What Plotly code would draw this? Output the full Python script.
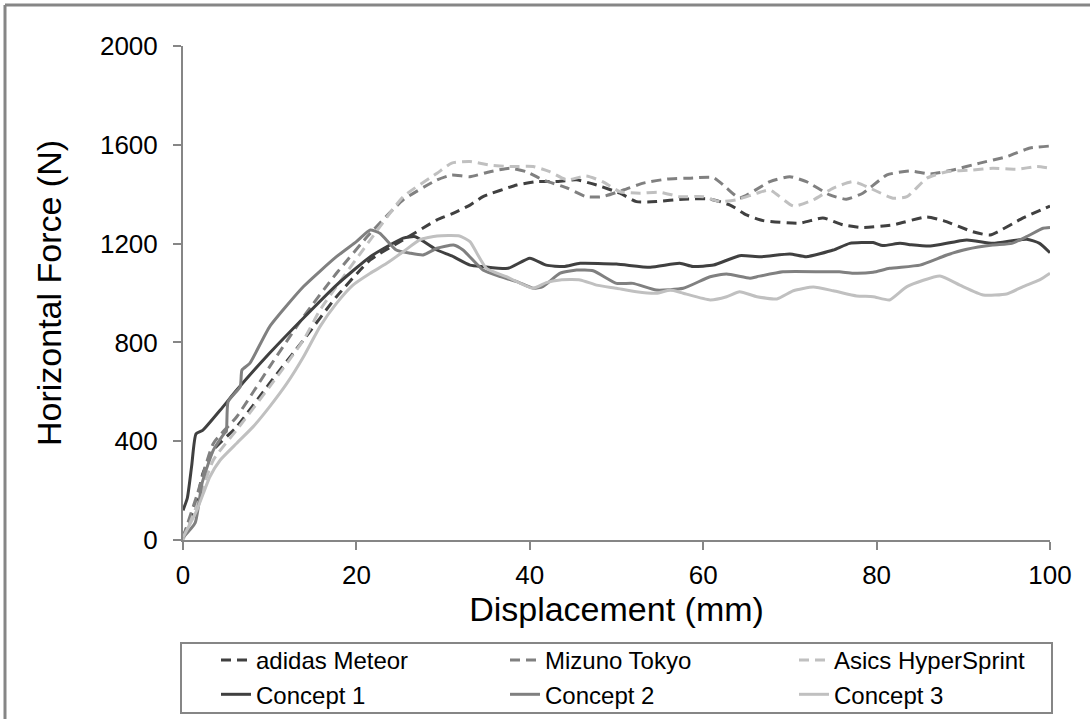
import plotly.graph_objects as go

# ---- data ----
names = ["adidas Meteor", "Mizuno Tokyo", "Asics HyperSprint", "Concept 1", "Concept 2", "Concept 3"]

adidas_x = [0, 1.6, 2.3, 3.5, 6.2, 10, 13.9, 17.7, 21.6, 25.4, 29.3, 31, 33.1, 34.6, 38.5, 40.8, 43, 45.4, 47.7,
            50.4, 52.3, 54.6, 57.7, 60.8, 63.1, 65, 66.9, 71.2, 73.8, 76.1, 78.4, 81.9, 85.8, 87.7, 91.1, 93.1, 96.9, 100]
adidas_y = [10, 162, 270, 364, 459, 635, 810, 985, 1134, 1215, 1296, 1320, 1356, 1390, 1437, 1451, 1451, 1458, 1437,
            1404, 1370, 1370, 1380, 1380, 1356, 1316, 1293, 1283, 1304, 1276, 1265, 1276, 1308, 1293, 1248, 1235, 1304, 1352]

mizuno_x = [0, 1.6, 3.5, 6.2, 10, 13.9, 17.7, 21.6, 25.4, 29.3, 31, 33.1, 35.4, 37.7, 39.6, 41.5, 44.3, 46.5, 48.4,
            50.8, 53.1, 55.8, 58.5, 61.2, 62.7, 64.2, 67.7, 70, 71.9, 74.6, 76.5, 78.4, 81.2, 83.9, 86.2, 88.8, 91.9,
            95, 97.7, 100]
mizuno_y = [10, 180, 391, 499, 702, 904, 1080, 1242, 1377, 1458, 1478, 1471, 1491, 1505, 1491, 1458, 1425, 1390, 1390,
            1417, 1445, 1461, 1465, 1467, 1425, 1385, 1451, 1471, 1451, 1397, 1380, 1404, 1478, 1494, 1482, 1498, 1526,
            1552, 1587, 1595]

asics_x = [0, 1.6, 3.5, 6.2, 10, 13.9, 15.8, 17.7, 21.6, 25.4, 29.3, 31, 33.1, 35.4, 37.7, 40.4, 42.3, 44.3, 46.5,
           48.4, 50.4, 52.7, 55, 57.3, 60, 61.9, 63.8, 66.2, 67.7, 70.4, 72.7, 75, 77.3, 79.2, 81.9, 83.5, 85.8, 88.1,
           91.1, 93.4, 96.2, 98.5, 100]
asics_y = [0, 140, 324, 446, 621, 810, 931, 1026, 1215, 1390, 1485, 1526, 1532, 1518, 1512, 1512, 1491, 1458, 1474,
           1451, 1410, 1404, 1408, 1390, 1390, 1370, 1377, 1404, 1417, 1352, 1377, 1425, 1451, 1425, 1384, 1390, 1465,
           1491, 1498, 1505, 1501, 1512, 1505]

c1_x = [0, 0.5, 1.0, 1.5, 2.3, 4.3, 6.2, 10, 13.9, 17.7, 21.6, 25.4, 26.8, 29.3, 31, 33.1, 34.6, 37.5, 40, 41.9, 43.9,
        45.8, 50, 53.9, 57.3, 58.8, 61.2, 64.2, 66.6, 70, 71.9, 75, 76.9, 79.6, 80.7, 82.7, 84, 86.2, 90.4, 93.4, 97.3,
        98.8, 100]
c1_y = [120, 170, 300, 430, 445, 526, 607, 757, 899, 1032, 1147, 1222, 1228, 1174, 1150, 1113, 1107, 1100, 1141, 1113,
        1107, 1120, 1117, 1104, 1120, 1107, 1113, 1151, 1147, 1158, 1147, 1174, 1201, 1204, 1192, 1201, 1195, 1190,
        1215, 1201, 1218, 1201, 1163]

c2_x = [0, 1.4, 2.2, 3.5, 4.8, 5.0, 5.2, 6.6, 6.8, 7.7, 10, 13.9, 17.7, 20, 21.6, 22.7, 24.6, 26.2, 27.7, 29.3, 31.2,
        32.3, 34.6, 36.6, 38.5, 40.4, 41.5, 43.5, 45.4, 47.3, 50, 51.9, 54.6, 57.7, 60.8, 62.7, 65.4, 66.2, 69.2, 73.8,
        75.7, 77.3, 79.6, 81.5, 85, 88.1, 90.4, 93.4, 95.6, 97.3, 99.2, 100]
c2_y = [10, 69, 230, 364, 433, 440, 560, 621, 688, 715, 864, 1026, 1147, 1208, 1255, 1242, 1174, 1161, 1154, 1181, 1194,
        1174, 1093, 1066, 1046, 1019, 1026, 1080, 1093, 1090, 1039, 1039, 1012, 1019, 1066, 1077, 1060, 1066, 1086,
        1086, 1086, 1080, 1084, 1100, 1113, 1154, 1177, 1194, 1201, 1228, 1262, 1265]

c3_x = [0, 1.6, 3.1, 4.3, 6.2, 8.1, 10, 12, 13.9, 15.8, 17.7, 19.6, 21.6, 23.5, 25.4, 27.3, 29.3, 31.9, 33.1, 33.9, 35,
        37.3, 40.4, 41.9, 43.5, 45.8, 47.7, 50, 52.3, 54.6, 56.2, 57.7, 60.8, 62.7, 64.2, 66.2, 68.5, 70.4, 72.7, 75,
        77.7, 79.6, 81.5, 83.5, 87.3, 89.6, 92.3, 95, 96.9, 98.8, 100]
c3_y = [10, 121, 256, 324, 392, 459, 540, 635, 742, 864, 958, 1032, 1080, 1120, 1167, 1215, 1231, 1231, 1208, 1161,
        1100, 1066, 1019, 1042, 1053, 1053, 1032, 1019, 1005, 999, 1012, 999, 972, 985, 1005, 985, 976, 1009, 1024,
        1009, 988, 985, 972, 1026, 1069, 1032, 992, 996, 1026, 1053, 1080]

x_ticks = [0, 20, 40, 60, 80, 100]
y_ticks = [0, 400, 800, 1200, 1600, 2000]

# ---- styles ----
series = [
    (adidas_x, adidas_y, "#404040", "10px,6px"),
    (mizuno_x, mizuno_y, "#808080", "10px,6px"),
    (asics_x, asics_y, "#c0c0c0", "10px,6px"),
    (c1_x, c1_y, "#404040", "solid"),
    (c2_x, c2_y, "#808080", "solid"),
    (c3_x, c3_y, "#c0c0c0", "solid"),
]

FONT = "Liberation Sans, Arial, sans-serif"
AX = "#868686"

fig = go.Figure()
for name, (xs, ys, col, dash) in zip(names, series):
    fig.add_trace(go.Scatter(x=xs, y=ys, name=name, mode="lines",
                             line=dict(color=col, width=3, dash=dash, shape="spline", smoothing=0.5)))

W, H = 1090, 719
L, R, T, B = 183, 40, 46, 179
pw, ph = W - L - R, H - T - B

def px_x(p):
    return (p - L) / pw

def px_y(p):
    return (H - B - p) / ph

border = dict(color=AX, width=3)
box = dict(color=AX, width=2)

fig.update_layout(
    width=W, height=H,
    margin=dict(l=L, r=R, t=T, b=B, autoexpand=False),
    paper_bgcolor="white", plot_bgcolor="white",
    font=dict(family=FONT, color="black", size=26),
    showlegend=True,
    legend=dict(orientation="h", x=px_x(216), y=px_y(638), xanchor="left", yanchor="top",
                borderwidth=0, bgcolor="rgba(0,0,0,0)",
                font=dict(size=24, family=FONT, color="black"),
                entrywidth=244, entrywidthmode="pixels", traceorder="normal"),
    xaxis=dict(range=[0, 100], tickvals=x_ticks, ticks="outside", ticklen=8, tickwidth=2, tickcolor=AX,
               showline=True, linecolor=AX, linewidth=2, showgrid=False, zeroline=False,
               tickfont=dict(size=26), ticklabelstandoff=3,
               title=dict(text="Displacement (mm)", font=dict(size=34), standoff=5)),
    yaxis=dict(range=[0, 2000], tickvals=y_ticks, ticks="outside", ticklen=8, tickwidth=2, tickcolor=AX,
               showline=True, linecolor=AX, linewidth=2, showgrid=False, zeroline=False,
               tickfont=dict(size=26), ticklabelstandoff=10,
               title=dict(text="Horizontal Force (N)", font=dict(size=34), standoff=28)),
    shapes=[
        # outer chart frame (left and top edges visible; right/bottom fall outside the window)
        dict(type="line", xref="paper", yref="paper", x0=px_x(5), x1=px_x(5), y0=px_y(5), y1=px_y(760), line=border),
        dict(type="line", xref="paper", yref="paper", x0=px_x(5), x1=px_x(1120), y0=px_y(5), y1=px_y(5), line=border),
        # legend frame
        dict(type="rect", xref="paper", yref="paper", x0=px_x(181), x1=px_x(1052), y0=px_y(713), y1=px_y(643),
             line=box, fillcolor="rgba(0,0,0,0)"),
    ],
)

fig.write_html("out.html")
